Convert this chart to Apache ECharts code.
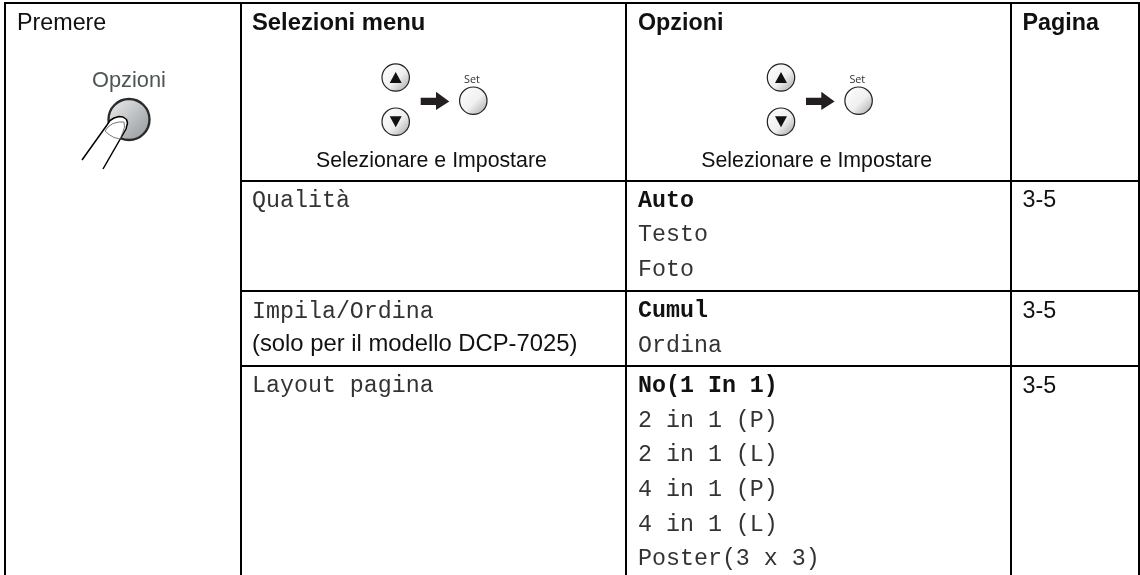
<!DOCTYPE html>
<html>
<head>
<meta charset="utf-8">
<style>
html, body { margin: 0; padding: 0; background: #fff; }
#main { width: 1140px; height: 575px; }
</style>
<script src="https://cdn.jsdelivr.net/npm/echarts@6/dist/echarts.min.js"></script>
</head>
<body>
<div id="main"></div>
<script>
const headers = ['Selezioni menu', 'Opzioni', 'Pagina']
const pressLabel = 'Premere'
const buttonLabel = 'Opzioni'
const navCaption = 'Selezionare e Impostare'
const setLabel = 'Set'
const qualityMenu = ['Qualità']
const qualityOptions = ['Auto', 'Testo', 'Foto']
const stackMenu = ['Impila/Ordina']
const stackNote = '(solo per il modello DCP-7025)'
const stackOptions = ['Cumul', 'Ordina']
const layoutMenu = ['Layout pagina']
const layoutOptions = ['No(1 In 1)', '2 in 1 (P)', '2 in 1 (L)', '4 in 1 (P)', '4 in 1 (L)', 'Poster(3 x 3)']
const pages = ['3-5', '3-5', '3-5']

const SANS = '"Liberation Sans", Arial, sans-serif'
const MONO = '"Liberation Mono", "Courier New", monospace'
const SIZE = 23.3
const LINE = 34.6
const colX = [5, 241, 626, 1011, 1139]
const rowY = [3, 181, 291, 366]
const graphics = []

// baseline positioned text: bottom of the line box sits below the baseline
function text (str, x, y, opts) {
  opts = opts || {}
  const size = opts.size || SIZE
  graphics.push({
    type: 'text',
    x: x,
    y: y + size * 0.21,
    style: {
      text: str,
      fill: opts.color || '#111',
      font: (opts.bold ? 'bold ' : '') + size + 'px ' + (opts.family || SANS),
      align: opts.align || 'left',
      verticalAlign: 'bottom'
    }
  })
}

function line (x1, y1, x2, y2) {
  graphics.push({
    type: 'line',
    shape: { x1: x1, y1: y1, x2: x2, y2: y2 },
    style: { stroke: '#000', lineWidth: 2 }
  })
}

function lightGrad () {
  return new echarts.graphic.LinearGradient(0, 0, 1, 1, [
    { offset: 0, color: '#ffffff' },
    { offset: 0.55, color: '#f0f0f0' },
    { offset: 1, color: '#a0a0a0' }
  ])
}

function navGroup (dx) {
  [[395.7, 77.5], [395.7, 121.7]].forEach(function (c, i) {
    graphics.push({
      type: 'circle',
      shape: { cx: c[0] + dx, cy: c[1], r: 13.7 },
      style: { fill: lightGrad(), stroke: '#222', lineWidth: 1.2 }
    })
    const up = i === 0
    graphics.push({
      type: 'polygon',
      shape: {
        points: up
          ? [[c[0] + dx - 6, c[1] + 5.5], [c[0] + dx + 6, c[1] + 5.5], [c[0] + dx, c[1] - 5.5]]
          : [[c[0] + dx - 6, c[1] - 5.5], [c[0] + dx + 6, c[1] - 5.5], [c[0] + dx, c[1] + 5.5]]
      },
      style: { fill: '#111' }
    })
  })
  graphics.push({
    type: 'polygon',
    shape: {
      points: [[420.7 + dx, 97.7], [436 + dx, 97.7], [436 + dx, 91.7], [449.3 + dx, 101.5],
        [436 + dx, 110], [436 + dx, 105], [420.7 + dx, 105]]
    },
    style: { fill: '#231f20' }
  })
  graphics.push({
    type: 'circle',
    shape: { cx: 473.3 + dx, cy: 100.7, r: 13.7 },
    style: { fill: lightGrad(), stroke: '#222', lineWidth: 1.2 }
  })
  text(setLabel, 472 + dx, 83.5, { size: 10.8, align: 'center', family: '"Open Sans", sans-serif', color: '#333' })
  text(navCaption, 431.4 + dx, 166.7, { size: 21.3, align: 'center' })
}

// table frame
rowY.forEach(function (y) { line(colX[1] - 1, y, colX[4], y) })
line(colX[0] - 1, rowY[0], colX[1], rowY[0])
colX.forEach(function (x) { line(x, rowY[0] - 1, x, 575) })

// first column
text(pressLabel, 17, 30)
text(buttonLabel, 129, 87, { size: 21.8, align: 'center', color: '#4d5556' })
graphics.push({
  type: 'circle',
  shape: { cx: 129, cy: 119.5, r: 20.5 },
  style: {
    fill: new echarts.graphic.LinearGradient(0, 0, 1, 1, [
      { offset: 0, color: '#f0f0f0' },
      { offset: 1, color: '#8e9498' }
    ]),
    stroke: '#2b2b2b',
    lineWidth: 2.4
  }
})
// finger outline
const fingerPts = [[82, 160], [107, 125], [110, 120.5], [114, 118], [119, 116.5], [123, 117], [126.5, 119.5], [127.5, 123], [126, 129], [103, 169]]
graphics.push({
  type: 'polygon',
  shape: { points: fingerPts },
  style: { fill: '#fff', stroke: 'none' }
})
graphics.push({
  type: 'polyline',
  shape: { points: fingerPts },
  style: { fill: 'none', stroke: '#000', lineWidth: 1.5, lineJoin: 'round' }
})
graphics.push({
  type: 'polygon',
  shape: { points: [[105, 131], [108, 127], [113, 123.5], [119, 122], [124, 122], [124.5, 127], [123, 132], [120, 139], [114, 137.5], [109, 134.5]] },
  style: { fill: '#fff', stroke: '#555', lineWidth: 0.8 }
})

// headers
text(headers[0], 252, 30, { bold: true, size: 23.8 })
text(headers[1], 638, 30, { bold: true })
text(headers[2], 1022.5, 30, { bold: true })
navGroup(0)
navGroup(385.3)

// rows
function column (items, x, base, opts) {
  items.forEach(function (s, i) {
    const first = i === 0 && opts && opts.firstBold
    text(s, x, base + i * LINE, { family: MONO, color: first ? '#111' : '#333', bold: first })
  })
}
column(qualityMenu, 252, 207.3)
column(qualityOptions, 638, 207.3, { firstBold: true })
text(pages[0], 1022.5, 207.3)
column(stackMenu, 252, 318)
text(stackNote, 252, 351.7, { size: 23.8 })
column(stackOptions, 638, 318, { firstBold: true })
text(pages[1], 1022.5, 318)
column(layoutMenu, 252, 392.7)
column(layoutOptions, 638, 392.7, { firstBold: true })
text(pages[2], 1022.5, 392.7)

const chart = echarts.init(document.getElementById('main'), null, { renderer: 'canvas' })
chart.setOption({
  animation: false,
  backgroundColor: '#fff',
  graphic: { elements: graphics }
})
</script>
</body>
</html>
